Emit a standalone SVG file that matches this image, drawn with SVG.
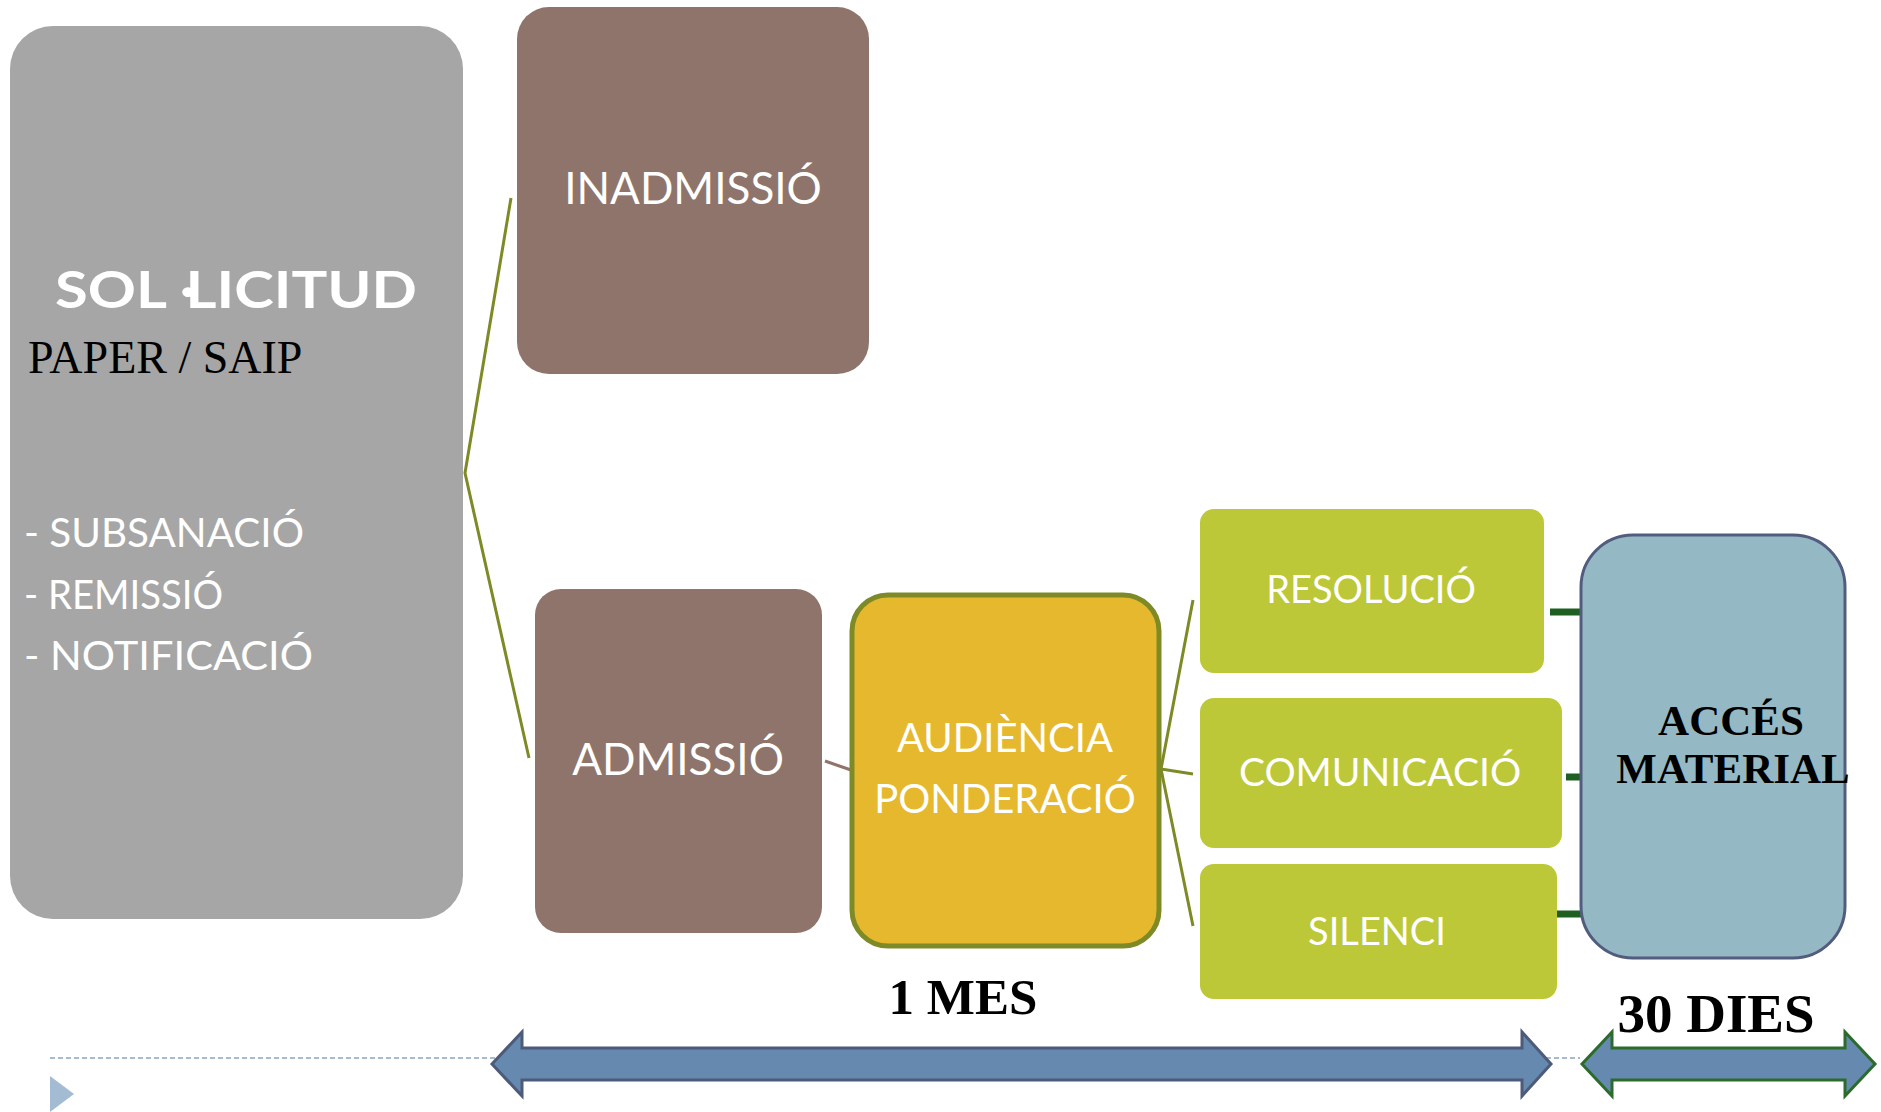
<svg xmlns="http://www.w3.org/2000/svg" width="1881" height="1112" viewBox="0 0 1881 1112">
<style>
.lbl{font-family:Lato,"Open Sans","DejaVu Sans",sans-serif;fill:#fff;text-anchor:middle}
.lst{font-family:Lato,"Open Sans","DejaVu Sans",sans-serif;fill:#fff;font-size:40px}
.ser{font-family:"Liberation Serif","Times New Roman",serif;fill:#000;font-weight:bold}
.olive{stroke:#7E8A26;stroke-width:3;fill:none}
.green{stroke:#1F5F22;stroke-width:7;fill:none}
.gbox{fill:#BCC837}
</style>
<rect width="1881" height="1112" fill="#fff"/>
<line x1="50" y1="1058" x2="1580" y2="1058" stroke="#A7BBD0" stroke-width="2" stroke-dasharray="5 3"/>
<polygon points="50,1076 74,1094 50,1112" fill="#A3BBD3"/>
<g id="connectors">
<polyline class="olive" points="511,198 465,473 529,758"/>
<line x1="825" y1="761" x2="851" y2="770" stroke="#8E746A" stroke-width="3"/>
<polyline class="olive" points="1193,600 1161,769 1193,926"/>
<line class="olive" x1="1161" y1="769" x2="1193" y2="774"/>
<line class="green" x1="1550" y1="612" x2="1581" y2="612"/>
<line class="green" x1="1566" y1="777" x2="1581" y2="777"/>
<line class="green" x1="1550" y1="914" x2="1581" y2="914"/>
</g>
<g id="sollicitud">
<rect x="10" y="26" width="453" height="893" rx="43" fill="#A6A6A6"/>
<text x="55" y="308" class="lbl" font-size="51" font-weight="bold" style="text-anchor:start" textLength="362" lengthAdjust="spacingAndGlyphs">SOL ·<tspan dx="-9">LICITUD</tspan></text>
<text x="28" y="373" class="ser" font-size="46" style="font-weight:normal">PAPER / SAIP</text>
<text x="24" y="547" class="lst" textLength="280" lengthAdjust="spacingAndGlyphs">- SUBSANACIÓ</text>
<text x="24" y="609" class="lst" textLength="199" lengthAdjust="spacingAndGlyphs">- REMISSIÓ</text>
<text x="24" y="670" class="lst" textLength="289" lengthAdjust="spacingAndGlyphs">- NOTIFICACIÓ</text>
</g>
<g id="inadmissio">
<rect x="517" y="7" width="352" height="367" rx="32" fill="#8E746A"/>
<text x="693" y="204" class="lbl" font-size="44">INADMISSIÓ</text>
</g>
<g id="admissio">
<rect x="535" y="589" width="287" height="344" rx="26" fill="#8E746A"/>
<text x="678" y="775" class="lbl" font-size="44">ADMISSIÓ</text>
</g>
<g id="audiencia">
<rect x="852" y="595" width="307" height="351" rx="36" fill="#E6B82E" stroke="#7E8A26" stroke-width="5"/>
<text x="1005" y="752" class="lbl" font-size="40">AUDIÈNCIA</text>
<text x="1005" y="813" class="lbl" font-size="40">PONDERACIÓ</text>
</g>
<g id="resolucio">
<rect class="gbox" x="1200" y="509" width="344" height="164" rx="14"/>
<text x="1371" y="603" class="lbl" font-size="38">RESOLUCIÓ</text>
</g>
<g id="comunicacio">
<rect class="gbox" x="1200" y="698" width="362" height="150" rx="14"/>
<text x="1380" y="786" class="lbl" font-size="39">COMUNICACIÓ</text>
</g>
<g id="silenci">
<rect class="gbox" x="1200" y="864" width="357" height="135" rx="14"/>
<text x="1377" y="945" class="lbl" font-size="38">SILENCI</text>
</g>
<g id="acces">
<rect x="1581" y="535" width="264" height="423" rx="52" fill="#95B9C4" stroke="#525C7E" stroke-width="3"/>
<text x="1731" y="735" class="ser" font-size="43" text-anchor="middle">ACCÉS</text>
<text x="1733" y="783" class="ser" font-size="43" text-anchor="middle">MATERIAL</text>
</g>
<g id="arrow-1mes">
<polygon points="492,1064 522,1032 522,1048 1522,1048 1522,1032 1551,1064 1522,1096 1522,1080 522,1080 522,1096" fill="#6689AF" stroke="#4E5A7A" stroke-width="3"/>
<text x="963" y="1014" class="ser" font-size="51" text-anchor="middle">1 MES</text>
</g>
<g id="arrow-30dies">
<polygon points="1582,1064 1612,1032 1612,1048 1845,1048 1845,1032 1875,1064 1845,1096 1845,1080 1612,1080 1612,1096" fill="#6689AF" stroke="#2B6B2B" stroke-width="3"/>
<text x="1716" y="1032" class="ser" font-size="55" text-anchor="middle">30 DIES</text>
</g>
</svg>
